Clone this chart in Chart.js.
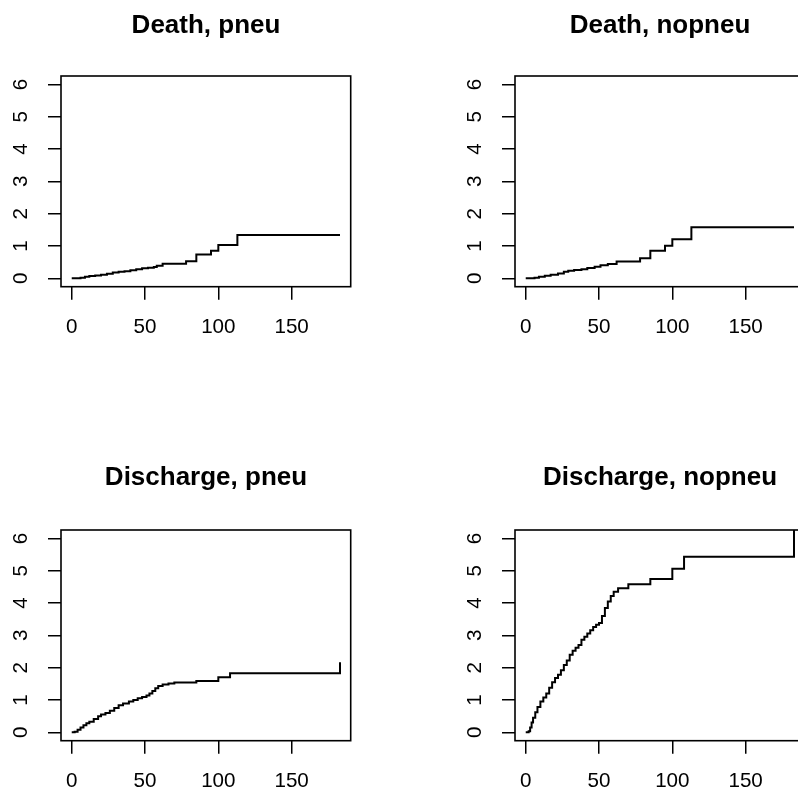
<!DOCTYPE html>
<html>
<head>
<meta charset="utf-8">
<script src="https://cdn.jsdelivr.net/npm/chart.js@4/dist/chart.umd.min.js"></script>
<style>
  body { margin: 0; background: #fff; overflow: hidden; }
  #wrap { position: relative; width: 798px; height: 792px; overflow: hidden; }
  canvas { position: absolute; }
</style>
</head>
<body>
<div id="wrap">
  <canvas id="p1" width="412" height="454" style="left:0;top:0"></canvas>
  <canvas id="p2" width="412" height="454" style="left:454px;top:0"></canvas>
  <canvas id="p3" width="412" height="454" style="left:0;top:454px"></canvas>
  <canvas id="p4" width="412" height="454" style="left:454px;top:454px"></canvas>
</div>
<script>
// cumulative hazards (time in days)
var deathPneuTime = [0, 3, 6, 9, 12, 16, 20, 24, 28, 32, 36, 40, 44, 48, 52, 56, 58, 62, 78, 85, 95, 100, 113, 183];
var deathPneuHaz = [0, 0.005, 0.02, 0.05, 0.07, 0.09, 0.11, 0.14, 0.18, 0.2, 0.22, 0.25, 0.28, 0.31, 0.33, 0.35, 0.39, 0.45, 0.53, 0.74, 0.855, 1.03, 1.34, 1.34];

var deathNopneuTime = [0, 3, 6, 9, 13, 17, 22, 26, 29, 33, 38, 42, 47, 51, 56, 62, 78, 85, 95, 100, 113, 183];
var deathNopneuHaz = [0, 0.005, 0.02, 0.05, 0.08, 0.11, 0.15, 0.2, 0.235, 0.26, 0.28, 0.32, 0.36, 0.4, 0.44, 0.52, 0.62, 0.855, 1.01, 1.21, 1.58, 1.58];

var dischPneuTime = [0, 2, 4, 6, 8, 10, 12, 15, 18, 20, 23, 26, 29, 32, 35, 39, 42, 45, 48, 51, 53, 55, 57, 59, 62, 66, 70, 85, 100, 108, 183];
var dischPneuHaz = [0, 0.02, 0.08, 0.15, 0.22, 0.28, 0.33, 0.41, 0.5, 0.55, 0.6, 0.67, 0.75, 0.84, 0.89, 0.95, 1.0, 1.05, 1.09, 1.14, 1.2, 1.28, 1.36, 1.43, 1.48, 1.51, 1.54, 1.59, 1.7, 1.83, 2.17];

var dischNopneuTime = [0, 2, 3, 4, 5, 6.5, 8, 10, 12, 14, 16, 18, 20, 22, 24, 26, 28, 30, 32, 34, 36, 38, 40, 42, 44, 46, 48, 50, 52, 54, 56, 58, 60, 63, 70, 85, 100, 108, 183];
var dischNopneuHaz = [0, 0.03, 0.15, 0.3, 0.45, 0.62, 0.78, 0.95, 1.08, 1.2, 1.38, 1.55, 1.68, 1.78, 1.92, 2.08, 2.22, 2.4, 2.52, 2.62, 2.7, 2.86, 2.96, 3.06, 3.16, 3.26, 3.33, 3.38, 3.6, 3.85, 4.05, 4.22, 4.35, 4.46, 4.58, 4.74, 5.06, 5.43, 6.5];

var xTicks = [0, 50, 100, 150];
var yTicks = [0, 1, 2, 3, 4, 5, 6];

Chart.defaults.font.family = "'Liberation Sans', Arial, Helvetica, sans-serif";
Chart.defaults.color = '#000';

// box around the plot region, like R's box()
var boxPlugin = {
  id: 'box',
  afterDraw: function(chart) {
    var a = chart.chartArea, ctx = chart.ctx;
    ctx.save();
    ctx.strokeStyle = '#000';
    ctx.lineWidth = 1.6;
    ctx.strokeRect(a.left, a.top, a.right - a.left, a.bottom - a.top);
    ctx.restore();
  }
};

function makePanel(id, title, times, haz, titleTop) {
  var pts = times.map(function(t, i) { return { x: t, y: haz[i] }; });
  return new Chart(id, {
    type: 'line',
    data: {
      datasets: [{
        data: pts,
        borderColor: '#000',
        borderWidth: 2,
        pointRadius: 0,
        fill: false,
        stepped: 'before'
      }]
    },
    options: {
      responsive: false,
      animation: false,
      plugins: {
        legend: { display: false },
        tooltip: { enabled: false },
        title: {
          display: true,
          text: title,
          color: '#000',
          font: { size: 26, weight: 'bold', lineHeight: 1.2 },
          padding: { top: titleTop, bottom: 76 - 31.2 - titleTop }
        }
      },
      scales: {
        x: {
          type: 'linear',
          min: -7.32,
          max: 190.3,
          afterBuildTicks: function(s) { s.ticks = xTicks.map(function(v) { return { value: v }; }); },
          afterFit: function(s) { s.height = 167.3; },
          grid: { drawOnChartArea: false, drawTicks: true, tickLength: 13, color: '#000', lineWidth: 1.5 },
          border: { display: false },
          ticks: { font: { size: 20.6 }, padding: 14.8, maxRotation: 0, autoSkip: false }
        },
        y: {
          min: -0.26,
          max: 6.26,
          afterBuildTicks: function(s) { s.ticks = yTicks.map(function(v) { return { value: v }; }); },
          afterFit: function(s) { s.width = 61; },
          grid: { drawOnChartArea: false, drawTicks: true, tickLength: 13, color: '#000', lineWidth: 1.5 },
          border: { display: false },
          ticks: { font: { size: 20.6 }, padding: 20.8, minRotation: 90, maxRotation: 90, crossAlign: 'center', autoSkip: false }
        },
        // empty right margin so the title stays centred over the canvas
        yr: {
          position: 'right',
          afterFit: function(s) { s.width = 61.3; },
          grid: { display: false },
          border: { display: false },
          ticks: { display: false }
        }
      }
    },
    plugins: [boxPlugin]
  });
}

makePanel('p1', 'Death, pneu', deathPneuTime, deathPneuHaz, 10.7);
makePanel('p2', 'Death, nopneu', deathNopneuTime, deathNopneuHaz, 10.7);
makePanel('p3', 'Discharge, pneu', dischPneuTime, dischPneuHaz, 8.7);
makePanel('p4', 'Discharge, nopneu', dischNopneuTime, dischNopneuHaz, 8.7);
</script>
</body>
</html>
